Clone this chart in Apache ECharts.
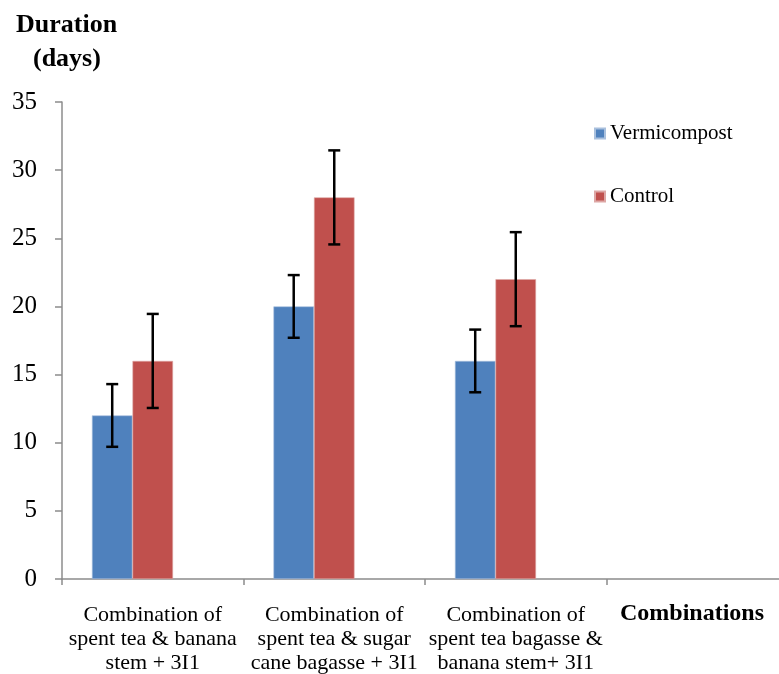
<!DOCTYPE html>
<html>
<head>
<meta charset="utf-8">
<script src="https://cdn.jsdelivr.net/npm/echarts@6/dist/echarts.min.js"></script>
<style>html,body{margin:0;padding:0;background:#fff}#c{width:779px;height:674px}</style>
</head>
<body>
<div id="c"></div>
<script>
var categories = ['Combination of\nspent tea & banana\nstem + 3I1', 'Combination of\nspent tea & sugar\ncane bagasse + 3I1', 'Combination of\nspent tea bagasse &\nbanana stem+ 3I1', ''];
var vermicompost = [12, 20, 16, null];
var control = [16, 28, 22, null];
var vermicompostErr = [2.3, 2.3, 2.3];
var controlErr = [3.45, 3.45, 3.45];
var yTicks = {min: 0, max: 35, interval: 5};

var FONT = '"Liberation Serif", "Times New Roman", serif';
var GAP = 0.33;

function errData(vals, errs) {
  var out = [];
  for (var i = 0; i < errs.length; i++) {
    if (vals[i] == null) continue;
    out.push([i, vals[i] - errs[i], vals[i] + errs[i]]);
  }
  return out;
}
function errRender(offsetIndex) {
  return function (params, api) {
    var band = api.size([1, 0])[0];
    var barW = band * (1 - GAP) / 3;
    var cx = api.coord([api.value(0), 0])[0] + offsetIndex * barW;
    var lo = api.coord([api.value(0), api.value(1)])[1];
    var hi = api.coord([api.value(0), api.value(2)])[1];
    var cap = 6;
    var st = {stroke: '#000', lineWidth: 2.5};
    return {type: 'group', children: [
      {type: 'line', shape: {x1: cx, y1: lo, x2: cx, y2: hi}, style: st},
      {type: 'line', shape: {x1: cx - cap, y1: lo, x2: cx + cap, y2: lo}, style: st},
      {type: 'line', shape: {x1: cx - cap, y1: hi, x2: cx + cap, y2: hi}, style: st}
    ]};
  };
}

var chart = echarts.init(document.getElementById('c'), null, {renderer: 'canvas'});
chart.setOption({
  animation: false,
  backgroundColor: '#fff',
  grid: {left: 62, top: 102, height: 477, width: 726, containLabel: false, outerBoundsMode: 'none'},
  legend: {
    data: ['Vermicompost', 'Control'],
    orient: 'vertical', left: 589, top: 118,
    itemWidth: 10, itemHeight: 10, itemGap: 42, icon: 'rect',
    textStyle: {fontFamily: FONT, fontSize: 21, color: '#000'}
  },
  xAxis: {
    type: 'category', data: categories,
    axisLine: {lineStyle: {color: '#8c8c8c', width: 1.5}},
    axisTick: {show: true, length: 6, lineStyle: {color: '#8c8c8c', width: 1.5}},
    axisLabel: {fontFamily: FONT, fontSize: 22, lineHeight: 24, color: '#000', margin: 24, interval: 0}
  },
  yAxis: {
    type: 'value', min: yTicks.min, max: yTicks.max, interval: yTicks.interval,
    splitLine: {show: false},
    axisLine: {show: true, lineStyle: {color: '#8c8c8c', width: 1.5}},
    axisTick: {show: true, length: 7, lineStyle: {color: '#8c8c8c', width: 1.5}},
    axisLabel: {fontFamily: FONT, fontSize: 25, color: '#000', margin: 25}
  },
  graphic: [
    {type: 'text', left: 16, top: 12, style: {text: 'Duration', font: 'bold 26px ' + FONT, fill: '#000'}},
    {type: 'text', left: 33, top: 46, style: {text: '(days)', font: 'bold 26px ' + FONT, fill: '#000'}},
    {type: 'text', left: 620, top: 602, style: {text: 'Combinations', font: 'bold 24px ' + FONT, fill: '#000'}}
  ],
  series: [
    {name: 'Vermicompost', type: 'bar', data: vermicompost, barGap: '0%', barCategoryGap: '33%',
      itemStyle: {color: '#4F81BD', borderColor: '#a9c0dd', borderWidth: 0.6}},
    {name: 'Control', type: 'bar', data: control,
      itemStyle: {color: '#C0504D', borderColor: '#dda7a5', borderWidth: 0.6}},
    {name: 'pad', type: 'bar', data: [null, null, null, null]},
    {name: 'VermErr', type: 'custom', renderItem: errRender(-1), data: errData(vermicompost, vermicompostErr),
      encode: {x: 0, y: [1, 2]}, z: 10},
    {name: 'CtrlErr', type: 'custom', renderItem: errRender(0), data: errData(control, controlErr),
      encode: {x: 0, y: [1, 2]}, z: 10}
  ]
});
</script>
</body>
</html>
